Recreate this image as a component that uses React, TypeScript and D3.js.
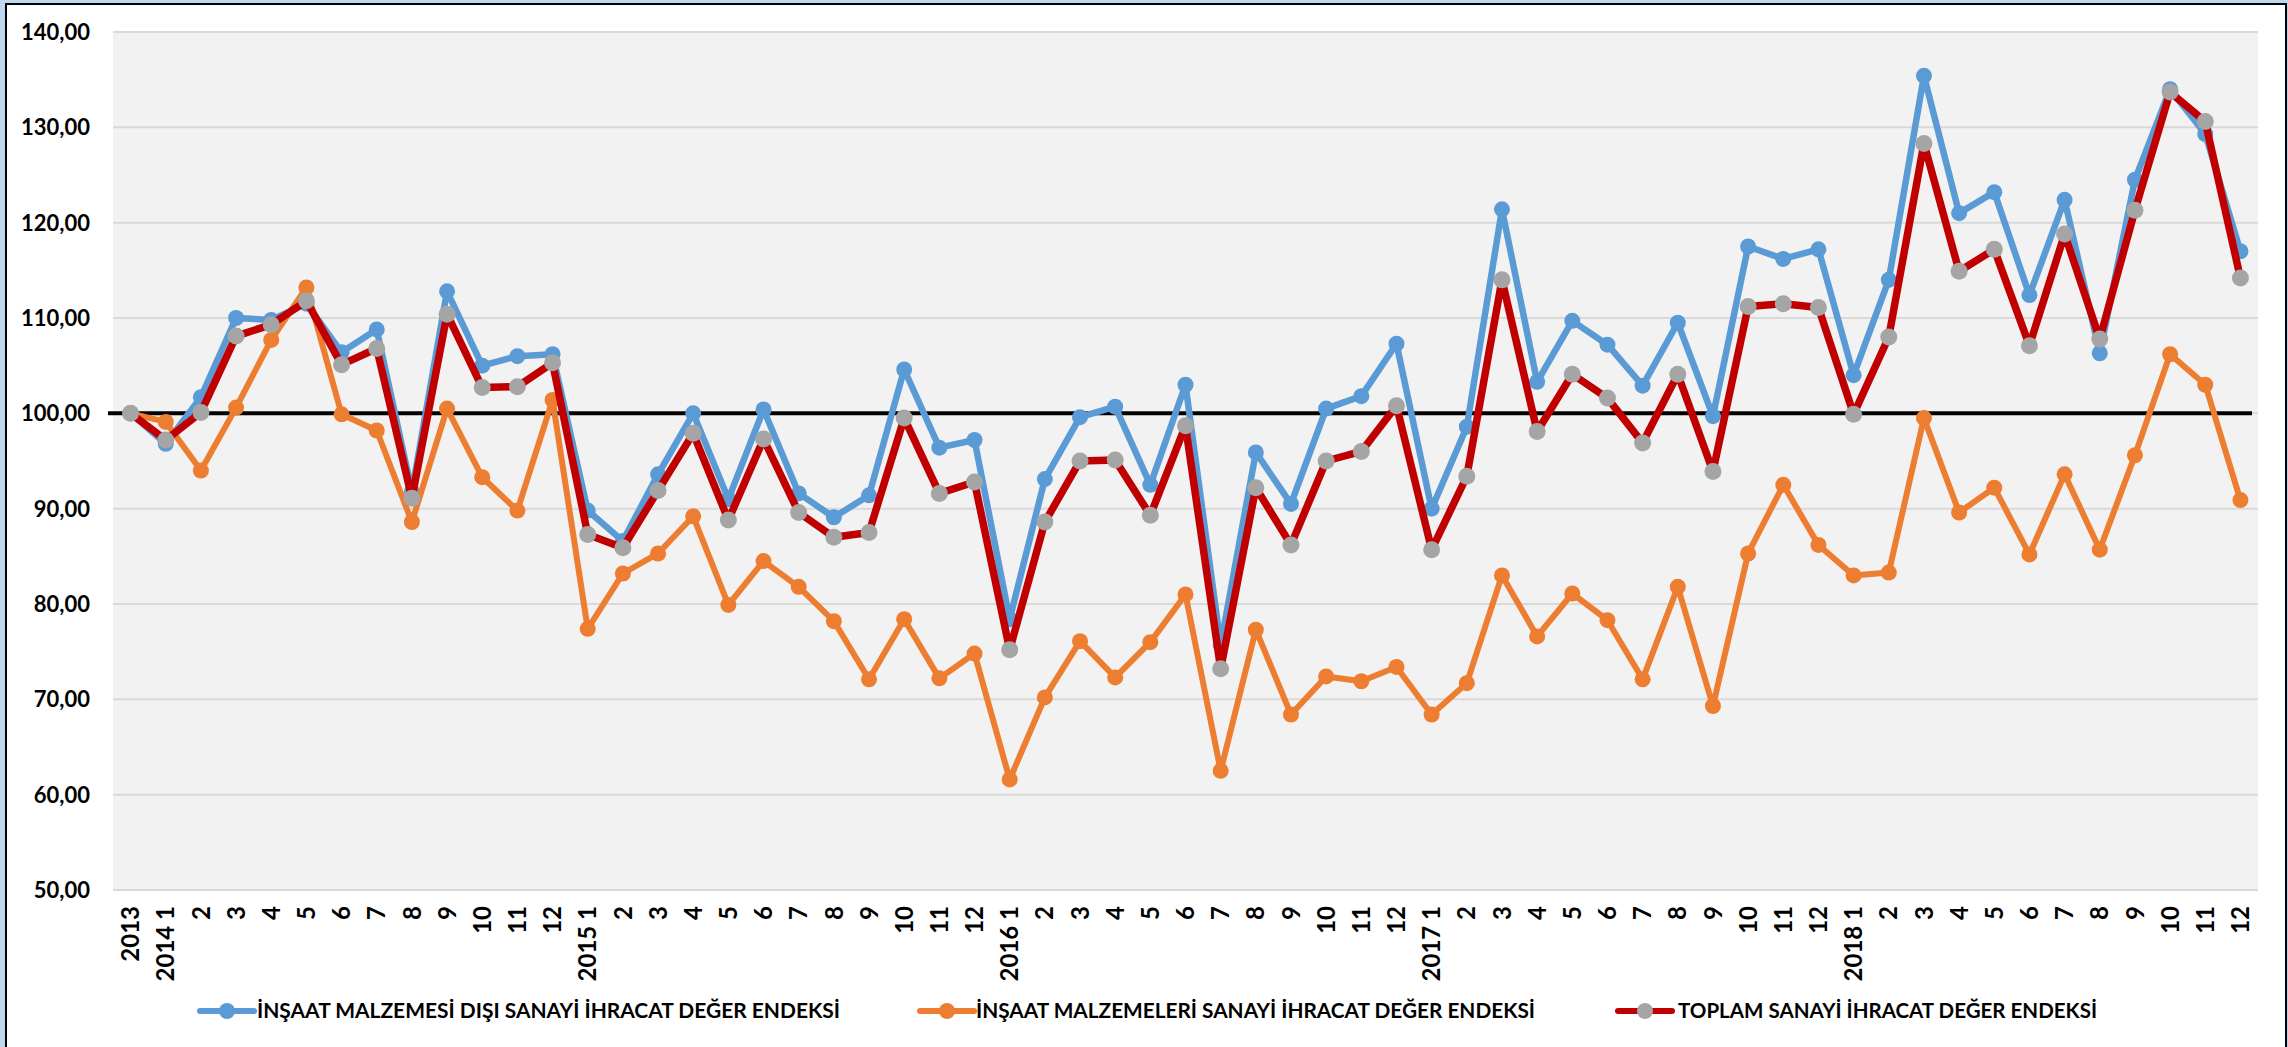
import React from "react";
import * as d3 from "d3";

const categories = [
  "2013",
  "2014 1", "2", "3", "4", "5", "6", "7", "8", "9", "10", "11", "12",
  "2015 1", "2", "3", "4", "5", "6", "7", "8", "9", "10", "11", "12",
  "2016 1", "2", "3", "4", "5", "6", "7", "8", "9", "10", "11", "12",
  "2017 1", "2", "3", "4", "5", "6", "7", "8", "9", "10", "11", "12",
  "2018 1", "2", "3", "4", "5", "6", "7", "8", "9", "10", "11", "12",
];

// İnşaat malzemesi dışı sanayi ihracat değer endeksi
const disiValues = [
  100.0,
  96.8, 101.7, 110.0, 109.8, 111.5, 106.4, 108.8, 91.8, 112.8, 105.0, 106.0, 106.2,
  89.8, 86.6, 93.6, 100.0, 91.0, 100.4, 91.6, 89.1, 91.4, 104.6, 96.4, 97.2,
  78.4, 93.1, 99.6, 100.7, 92.5, 103.0, 75.7, 95.9, 90.5, 100.5, 101.8, 107.3,
  90.0, 98.6, 121.4, 103.3, 109.7, 107.2, 102.9, 109.5, 99.7, 117.5, 116.2, 117.2,
  104.0, 114.0, 135.4, 121.0, 123.2, 112.4, 122.4, 106.3, 124.5, 134.0, 129.3, 117.0,
];

// İnşaat malzemeleri sanayi ihracat değer endeksi
const malzemeValues = [
  100.0,
  99.1, 94.0, 100.6, 107.7, 113.2, 99.9, 98.2, 88.6, 100.5, 93.3, 89.8, 101.4,
  77.4, 83.2, 85.3, 89.2, 79.9, 84.5, 81.8, 78.2, 72.1, 78.4, 72.2, 74.8,
  61.6, 70.2, 76.1, 72.3, 76.0, 81.0, 62.5, 77.3, 68.4, 72.4, 71.9, 73.4,
  68.4, 71.7, 83.0, 76.6, 81.1, 78.3, 72.1, 81.8, 69.3, 85.3, 92.5, 86.2,
  83.0, 83.3, 99.5, 89.6, 92.2, 85.2, 93.6, 85.7, 95.6, 106.2, 103.0, 90.9,
];

// Toplam sanayi ihracat değer endeksi
const toplamValues = [
  100.0,
  97.2, 100.1, 108.1, 109.3, 111.8, 105.1, 106.8, 91.1, 110.4, 102.7, 102.8, 105.3,
  87.3, 85.9, 91.9, 97.9, 88.8, 97.3, 89.6, 87.0, 87.5, 99.5, 91.6, 92.8,
  75.2, 88.6, 95.0, 95.1, 89.3, 98.7, 73.2, 92.2, 86.2, 95.0, 96.0, 100.8,
  85.7, 93.4, 114.0, 98.1, 104.1, 101.6, 96.9, 104.1, 93.9, 111.2, 111.5, 111.1,
  99.9, 108.0, 128.3, 114.9, 117.2, 107.1, 118.8, 107.8, 121.3, 133.7, 130.6, 114.2,
];

const yTicks = [50, 60, 70, 80, 90, 100, 110, 120, 130, 140];

const seriesNames = [
  "İNŞAAT MALZEMESİ DIŞI SANAYİ İHRACAT DEĞER ENDEKSİ",
  "İNŞAAT MALZEMELERİ SANAYİ İHRACAT DEĞER ENDEKSİ",
  "TOPLAM SANAYİ İHRACAT DEĞER ENDEKSİ",
];

const W = 2288;
const H = 1047;
const FONT = "Lato, 'Open Sans', sans-serif";

const App = () => {
  const left = 113, right = 2258, top = 32, bottom = 890;

  const x = d3
    .scaleBand<number>()
    .domain(categories.map((_, i) => i))
    .range([left, right]);
  const cx = (i: number) => (x(i) as number) + x.bandwidth() / 2;

  const y = d3.scaleLinear().domain([50, 140]).range([bottom, top]);

  const line = d3
    .line<number>()
    .x((_, i) => cx(i))
    .y((d) => y(d));

  const fmt = (v: number) => v.toFixed(2).replace(".", ",");

  const series = [
    { name: seriesNames[0], values: disiValues, stroke: "#5B9BD5", width: 6.5, marker: "#5B9BD5", r: 8 },
    { name: seriesNames[1], values: malzemeValues, stroke: "#ED7D31", width: 6, marker: "#ED7D31", r: 8 },
    { name: seriesNames[2], values: toplamValues, stroke: "#C00000", width: 7.5, marker: "#A5A5A5", r: 8.5 },
  ];

  const legend = [
    { lineX: 200, textX: 257, textW: 583 },
    { lineX: 920, textX: 976, textW: 559 },
    { lineX: 1618, textX: 1678, textW: 419 },
  ];

  return (
    <svg
      width={W}
      height={H}
      style={{ position: "absolute", left: 0, top: 0, display: "block" }}
      fontFamily={FONT}
    >
      <rect x={0} y={0} width={W} height={H} fill="#BDD7EE" />
      <rect x={6} y={4} width={2280} height={H + 10} fill="#FFFFFF" stroke="#000" strokeWidth={2} />

      {/* plot area */}
      <rect x={left} y={top} width={right - left} height={bottom - top} fill="#F2F2F2" />
      {yTicks.map((t) => (
        <line key={t} x1={left} x2={right} y1={y(t)} y2={y(t)} stroke="#D9D9D9" strokeWidth={2} />
      ))}
      {yTicks.map((t) => (
        <text
          key={"l" + t}
          x={90}
          y={y(t)}
          dy="0.36em"
          textAnchor="end"
          fontSize={22}
          fontWeight="bold"
          fill="#000"
        >
          {fmt(t)}
        </text>
      ))}

      {/* reference line at 100 */}
      <line x1={108} x2={2252} y1={y(100)} y2={y(100)} stroke="#000" strokeWidth={4} />

      {series.map((s) => (
        <g key={s.name}>
          <path d={line(s.values) || ""} fill="none" stroke={s.stroke} strokeWidth={s.width} strokeLinejoin="round" />
          {s.values.map((v, i) => (
            <circle key={i} cx={cx(i)} cy={y(v)} r={s.r} fill={s.marker} />
          ))}
        </g>
      ))}

      {/* x axis labels */}
      {categories.map((c, i) => (
        <text
          key={"x" + i}
          transform={`translate(${cx(i)},906) rotate(-90)`}
          dy="0.36em"
          textAnchor="end"
          fontSize={24}
          fontWeight="bold"
          fill="#000"
        >
          {c}
        </text>
      ))}

      {/* legend */}
      {series.map((s, k) => (
        <g key={"lg" + k}>
          <line
            x1={legend[k].lineX}
            x2={legend[k].lineX + 54}
            y1={1011}
            y2={1011}
            stroke={s.stroke}
            strokeWidth={6}
            strokeLinecap="round"
          />
          <circle cx={legend[k].lineX + 27} cy={1011} r={8} fill={s.marker} />
          <text
            x={legend[k].textX}
            y={1011}
            dy="0.36em"
            fontSize={20}
            fontWeight="bold"
            fill="#000"
            textLength={legend[k].textW}
            lengthAdjust="spacingAndGlyphs"
          >
            {s.name}
          </text>
        </g>
      ))}
    </svg>
  );
};

export default App;
